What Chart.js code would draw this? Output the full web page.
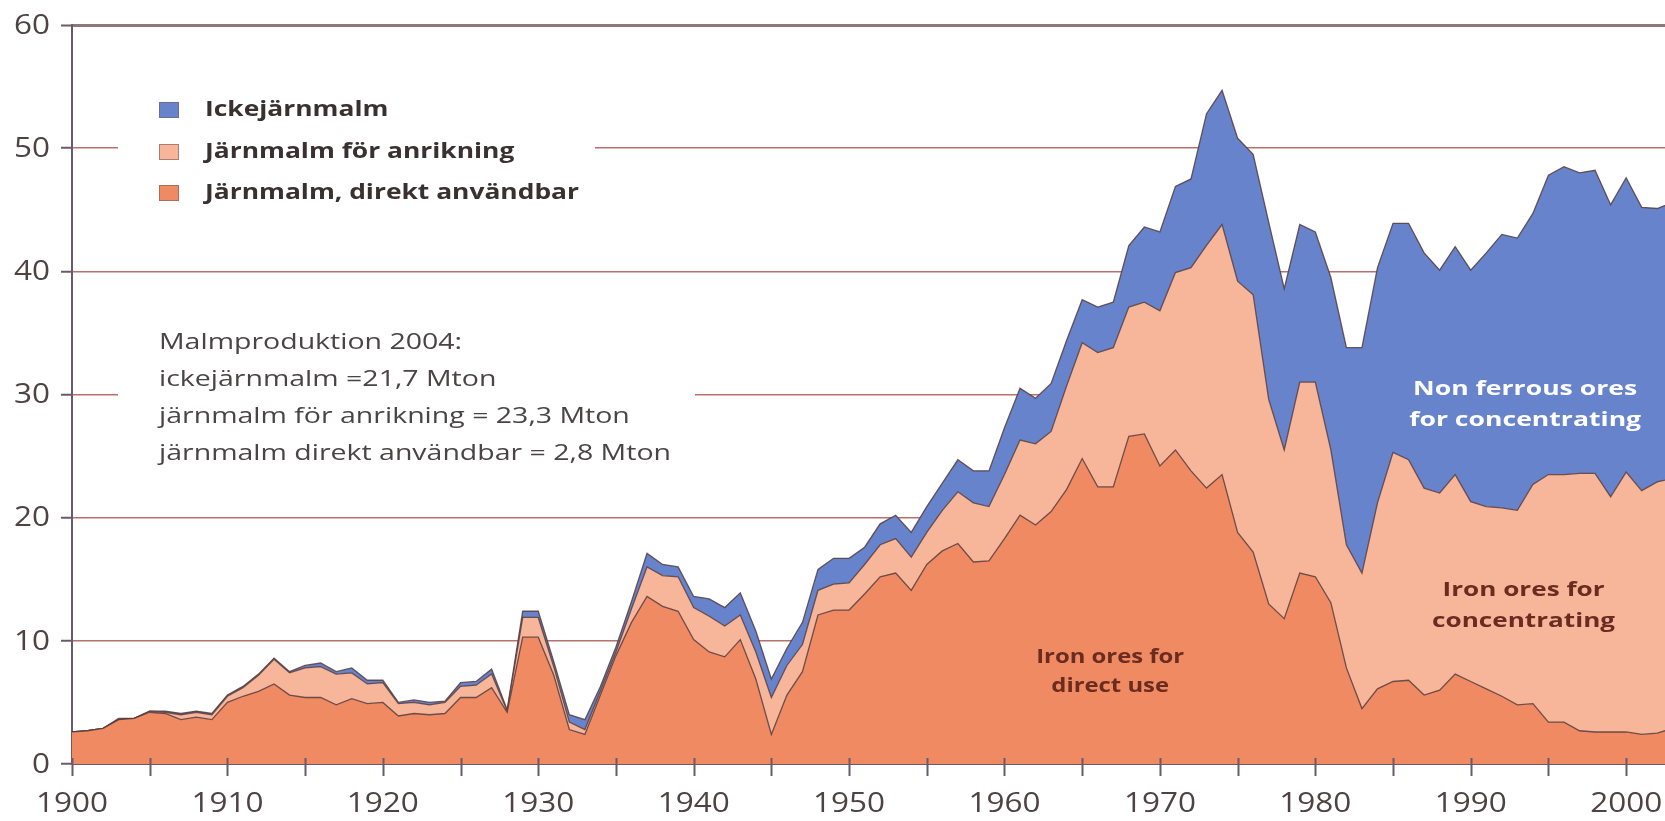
<!DOCTYPE html>
<html><head><meta charset="utf-8">
<script src="https://cdn.jsdelivr.net/npm/chart.js@4.4.1/dist/chart.umd.min.js"></script>
<style>html,body{margin:0;padding:0;background:#fff;}canvas{display:block}</style>
</head><body>
<canvas id="c" width="1665" height="821"></canvas>
<script>
// ---- DATA (Mton per year) ----
const years = [1900,1901,1902,1903,1904,1905,1906,1907,1908,1909,
  1910,1911,1912,1913,1914,1915,1916,1917,1918,1919,
  1920,1921,1922,1923,1924,1925,1926,1927,1928,1929,
  1930,1931,1932,1933,1934,1935,1936,1937,1938,1939,
  1940,1941,1942,1943,1944,1945,1946,1947,1948,1949,
  1950,1951,1952,1953,1954,1955,1956,1957,1958,1959,
  1960,1961,1962,1963,1964,1965,1966,1967,1968,1969,
  1970,1971,1972,1973,1974,1975,1976,1977,1978,1979,
  1980,1981,1982,1983,1984,1985,1986,1987,1988,1989,
  1990,1991,1992,1993,1994,1995,1996,1997,1998,1999,
  2000,2001,2002,2003,2004];
const directUse = [2.6,2.7,2.9,3.6,3.7,4.2,4.1,3.6,3.8,3.6,
  5.0,5.5,5.9,6.5,5.6,5.4,5.4,4.8,5.3,4.9,
  5.0,3.9,4.1,4.0,4.1,5.4,5.4,6.2,4.2,10.3,
  10.3,7.2,2.8,2.4,5.6,8.8,11.5,13.6,12.8,12.4,
  10.1,9.1,8.7,10.1,6.9,2.4,5.6,7.5,12.1,12.5,
  12.5,13.8,15.2,15.5,14.1,16.2,17.3,17.9,16.4,16.5,
  18.3,20.2,19.4,20.5,22.3,24.8,22.5,22.5,26.6,26.8,
  24.2,25.5,23.8,22.4,23.5,18.8,17.2,13.0,11.8,15.5,
  15.2,13.1,7.8,4.5,6.1,6.7,6.8,5.6,6.0,7.3,
  6.7,6.1,5.5,4.8,4.9,3.4,3.4,2.7,2.6,2.6,
  2.6,2.4,2.5,2.9,2.8];
const forConcentrating = [0,0,0,0,0,0.1,0.1,0.4,0.4,0.4,
  0.5,0.7,1.3,2.0,1.8,2.4,2.5,2.5,2.1,1.6,
  1.6,1.0,0.9,0.8,0.9,0.9,1.0,1.1,0.1,1.6,
  1.6,0.7,0.6,0.4,0.3,0.3,1.1,2.4,2.5,2.8,
  2.6,2.9,2.5,2.0,2.2,3.0,2.4,2.2,2.0,2.1,
  2.2,2.4,2.6,2.8,2.7,2.6,3.3,4.2,4.8,4.4,
  5.2,6.1,6.6,6.5,8.4,9.4,10.9,11.3,10.5,10.7,
  12.6,14.4,16.5,19.7,20.3,20.4,20.9,16.6,13.7,15.5,
  15.8,12.4,10.0,11.0,15.1,18.6,17.9,16.8,16.0,16.2,
  14.6,14.8,15.3,15.8,17.8,20.1,20.1,20.9,21.0,19.1,
  21.1,19.8,20.4,20.3,23.3];
const nonFerrous = [0,0,0,0.1,0,0,0.1,0.1,0.1,0.1,
  0.1,0.1,0.1,0.1,0.1,0.2,0.3,0.2,0.4,0.3,
  0.2,0.1,0.2,0.2,0.1,0.3,0.3,0.4,0.1,0.5,
  0.5,0.4,0.6,0.8,0.4,0.4,0.6,1.1,0.9,0.8,
  0.9,1.4,1.5,1.8,1.7,1.5,1.4,1.8,1.7,2.1,
  2.0,1.4,1.7,1.9,2.0,2.1,2.2,2.6,2.6,2.9,
  3.8,4.2,3.7,3.9,3.7,3.5,3.7,3.7,5.0,6.1,
  6.4,7.0,7.2,10.7,10.9,11.6,11.4,14.4,13.1,12.8,
  12.2,14.0,16.0,18.3,19.1,18.6,19.2,19.1,18.1,18.5,
  18.8,20.6,22.2,22.1,22.0,24.3,25.0,24.4,24.6,23.7,
  23.9,23.0,22.2,22.4,21.7];

const seriesNames = ['Järnmalm, direkt användbar', 'Järnmalm för anrikning', 'Ickejärnmalm'];
const xTickValues = [1900,1905,1910,1915,1920,1925,1930,1935,1940,1945,1950,1955,1960,1965,1970,1975,1980,1985,1990,1995,2000];
const xTickLabels = {1900:'1900',1910:'1910',1920:'1920',1930:'1930',1940:'1940',1950:'1950',1960:'1960',1970:'1970',1980:'1980',1990:'1990',2000:'2000'};
const yTickValues = [0,10,20,30,40,50,60];
const yTickLabels = ['0','10','20','30','40','50','60'];
const noteLines = ['Malmproduktion 2004:', 'ickejärnmalm =21,7 Mton', 'järnmalm för anrikning = 23,3 Mton', 'järnmalm direkt användbar = 2,8 Mton'];
const areaLabels = [
  {lines:['Iron ores for','direct use'], year:1966.8, value:[8.7,6.3], color:'#6a2c20'},
  {lines:['Iron ores for','concentrating'], year:1993.4, value:[14.1,11.6], color:'#6a2c20'},
  {lines:['Non ferrous ores','for concentrating'], year:1993.5, value:[30.4,27.9], color:'#ffffff'}
];

// ---- STYLE ----
const COLORS = ['#F08A62', '#F7B599', '#6683CC'];
const FONT = '"Open Sans", "Noto Sans", "DejaVu Sans", sans-serif';
const AXIS = '#6b5b68';
const LABEL = '#4e4244';

function pts(arr){ return years.map((y,i)=>({x:y, y:arr[i]})); }

function sText(ctx, text, x, y, font, color, align, sx){
  ctx.save();
  ctx.font = font; ctx.fillStyle = color; ctx.textBaseline = 'middle'; ctx.textAlign = align;
  ctx.translate(x, y); ctx.scale(sx, 1); ctx.fillText(text, 0, 0);
  ctx.restore();
}
function fitScale(ctx, font, text, target){ ctx.save(); ctx.font = font; const w = ctx.measureText(text).width; ctx.restore(); return target / w; }

const decor = {
  id: 'decor',
  beforeDatasetsDraw(chart){
    const ctx = chart.ctx;
    ctx.save(); ctx.fillStyle = '#ffffff';
    ctx.fillRect(118, 80, 477, 140);
    ctx.fillRect(118, 322, 577, 150);
    ctx.restore();
    const lf = 'bold 22px ' + FONT;
    const lsx = fitScale(ctx, lf, seriesNames[0], 374);
    const rows = [110, 152, 193];
    [2,1,0].forEach((di, r) => {
      const cy = rows[r];
      ctx.save();
      ctx.fillStyle = COLORS[di]; ctx.fillRect(159, cy-8, 20, 16);
      ctx.strokeStyle = 'rgba(120,90,90,0.6)'; ctx.lineWidth = 1; ctx.strokeRect(159.5, cy-7.5, 19, 15);
      ctx.restore();
      sText(ctx, chart.data.datasets[di].label, 205, cy, lf, '#3a3032', 'left', lsx);
    });
    const nf = '22px ' + FONT;
    const nsx = fitScale(ctx, nf, noteLines[3], 512);
    const ny = [343, 380, 417, 454];
    noteLines.forEach((t,i)=> sText(ctx, t, 159, ny[i], nf, '#4a4445', 'left', nsx));
  },
  afterDatasetsDraw(chart){
    const ctx = chart.ctx;
    const xs = chart.scales.x, ys = chart.scales.y;
    const af = 'bold 20px ' + FONT;
    const targets = [148, 183, 232];
    const refText = ['Iron ores for', 'concentrating', 'for concentrating'];
    areaLabels.forEach((a, k) => {
      const sx = fitScale(ctx, af, refText[k], targets[k]);
      const cx = xs.getPixelForValue(a.year);
      a.lines.forEach((t, i) => sText(ctx, t, cx, ys.getPixelForValue(a.value[i]), af, a.color, 'center', sx));
    });
  },
  afterDraw(chart){
    const ctx = chart.ctx;
    const xs = chart.scales.x, ys = chart.scales.y;
    const bottom = chart.chartArea.bottom;
    ctx.save(); ctx.strokeStyle = AXIS; ctx.lineWidth = 2;
    xTickValues.forEach(v => {
      const px = Math.round(xs.getPixelForValue(v)) + 0.5;
      ctx.beginPath(); ctx.moveTo(px, bottom - 6); ctx.lineTo(px, bottom + 12); ctx.stroke();
    });
    ctx.restore();
    const tf = '27px ' + FONT;
    const tsx = fitScale(ctx, tf, '1950', 72);
    xTickValues.forEach(v => { if (xTickLabels[v]) sText(ctx, xTickLabels[v], xs.getPixelForValue(v), 804, tf, LABEL, 'center', tsx); });
    yTickValues.forEach((v,i) => sText(ctx, yTickLabels[i], 50, ys.getPixelForValue(v) + 1, tf, LABEL, 'right', tsx));
  }
};

const ds = (label, arr, color, fill) => ({
  label, data: pts(arr), backgroundColor: color, fill,
  borderColor: 'rgba(85,60,62,0.85)', borderWidth: 1.3,
  pointRadius: 0, tension: 0
});

new Chart(document.getElementById('c'), {
  type: 'line',
  data: { datasets: [
    ds(seriesNames[0], directUse, COLORS[0], 'origin'),
    ds(seriesNames[1], forConcentrating, COLORS[1], '-1'),
    ds(seriesNames[2], nonFerrous, COLORS[2], '-1')
  ]},
  options: {
    responsive: false, animation: false, devicePixelRatio: 1,
    layout: { padding: { top: 25, left: 0, right: 0, bottom: 0 } },
    plugins: { legend: { display: false }, tooltip: { enabled: false } },
    scales: {
      x: {
        type: 'linear', min: 1900, max: 2002.5,
        afterBuildTicks: s => { s.ticks = xTickValues.map(v => ({value: v})); },
        afterFit: s => { s.height = 57; },
        ticks: { display: false },
        grid: { display: false },
        border: { display: true, color: AXIS, width: 2 }
      },
      y: {
        stacked: true, min: 0, max: 60,
        afterBuildTicks: s => { s.ticks = yTickValues.map(v => ({value: v})); },
        afterFit: s => { s.width = 72; },
        ticks: { display: false },
        grid: {
          color: c => c.tick && c.tick.value === 60 ? '#8e7878' : 'rgba(176,96,92,0.9)',
          lineWidth: c => c.tick && c.tick.value === 60 ? 3 : 1.5,
          tickLength: 11, tickColor: AXIS, tickWidth: 2, drawTicks: true
        },
        border: { display: true, color: AXIS, width: 2 }
      }
    }
  },
  plugins: [decor]
});
</script>
</body></html>
